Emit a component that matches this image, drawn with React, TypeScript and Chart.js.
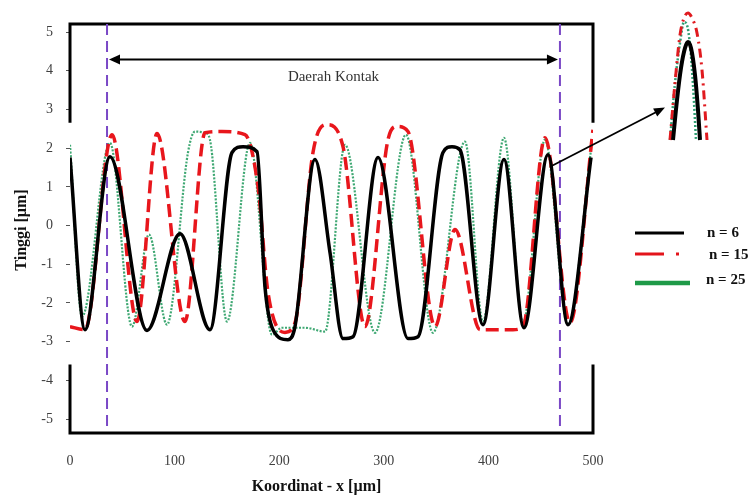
import React, { useEffect, useRef } from "react";
import { Chart, registerables } from "chart.js";

Chart.register(...registerables);

// ---- data ----
const xTicks = [0, 100, 200, 300, 400, 500];
const yTicks = [-5, -4, -3, -2, -1, 0, 1, 2, 3, 4, 5];

const seriesLabels = ["n = 6", "n = 15", "n = 25"];

const blackX = [0, 14.3, 38.2, 73.6, 105.2, 133.8, 154.9, 165.4, 178.8, 186.4, 194.1, 208.4, 215.1, 234.2, 248.6, 261.0, 270.6, 294.5, 323.1, 332.7, 356.6, 365.2, 372.8, 394.8, 414.9, 434.0, 457.0, 476.1, 498.1];
const blackY = [1.76, -2.69, 1.78, -2.71, -0.21, -2.69, 1.89, 2.04, 1.91, -1.58, -2.69, -2.95, -2.61, 1.71, -0.7, -2.92, -2.87, 1.76, -2.92, -2.87, 1.89, 2.04, 1.96, -2.56, 1.71, -2.64, 1.83, -2.56, 1.76];

const redX = [0, 14.3, 40.2, 64.1, 83.2, 109.9, 129.1, 145.3, 167.3, 179.7, 189.3, 205.5, 215.1, 232.3, 245.7, 261.0, 282.0, 304.0, 312.6, 323.1, 349.0, 368.1, 392.0, 423.5, 433.1, 454.1, 478.0, 500];
const redY = [-2.61, -2.69, 2.35, -2.48, 2.38, -2.48, 2.4, 2.43, 2.35, 1.01, -1.73, -2.76, -2.51, 1.89, 2.61, 2.04, -2.61, 2.22, 2.56, 2.43, -2.61, -0.1, -2.69, -2.69, -2.61, 2.27, -2.51, 2.48];

const greenX = [0, 11.5, 38.2, 59.3, 75.5, 92.7, 112.8, 119.5, 129.1, 133.8, 150.1, 172.1, 193.1, 202.7, 224.7, 243.8, 262.9, 291.6, 321.2, 347.0, 377.6, 394.8, 414.9, 433.1, 454.1, 476.1, 498.1];
const greenY = [2.09, -2.35, 2.14, -2.61, -0.23, -2.56, 1.89, 2.43, 2.4, 2.22, -2.48, 2.14, -2.82, -2.64, -2.64, -2.74, 2.09, -2.77, 2.35, -2.77, 2.17, -2.48, 2.27, -2.51, 2.22, -2.56, 1.96];

// zoomed inset of the peak near the contact edge (inset units)
const insetBlackX = [13, 17, 21, 25, 28, 31, 35, 38, 40];
const insetBlackY = [5, 45, 77, 97, 103, 97, 70, 35, 5];
const insetRedX = [10, 15, 20, 24, 28, 32, 37, 42, 47];
const insetRedY = [5, 62, 110, 127, 132, 127, 112, 75, 5];
const insetGreenX = [10, 15, 20, 24, 27, 30, 33, 36];
const insetGreenY = [5, 62, 102, 123, 120, 100, 60, 5];

// annotations (data units)
const contactStart = 35.4;
const contactEnd = 468.4;
const contactLineBottom = -5.2;
const arrowLevel = 4.29;
const contactLabelLevel = 3.85;
const contactLabel = "Daerah Kontak";
const frameGapTop = 2.66;
const frameGapBottom = -3.59;
const calloutFrom = { x: 459, y: 1.52 };
const calloutTo = { x: 568.8, y: 3.05 };
const xTitle = "Koordinat - x [µm]";
const yTitle = "Tinggi [µm]";

const SERIF = '"Liberation Serif", "Times New Roman", serif';

const pts = (xs: number[], ys: number[]) => xs.map((x, i) => ({ x, y: ys[i] }));

const annotPlugin = {
  id: "annot",
  beforeDatasetsDraw(chart: any) {
    const { ctx, chartArea: a, scales } = chart;
    const x = scales.x, y = scales.y;
    ctx.save();
    // frame with gaps
    ctx.strokeStyle = "#000";
    ctx.lineWidth = 3;
    ctx.lineCap = "butt";
    ctx.lineJoin = "miter";
    const gT = y.getPixelForValue(frameGapTop);
    const gB = y.getPixelForValue(frameGapBottom);
    ctx.beginPath();
    ctx.moveTo(a.left, gT);
    ctx.lineTo(a.left, a.top);
    ctx.lineTo(a.right, a.top);
    ctx.lineTo(a.right, gT);
    ctx.stroke();
    ctx.beginPath();
    ctx.moveTo(a.left, gB);
    ctx.lineTo(a.left, a.bottom);
    ctx.lineTo(a.right, a.bottom);
    ctx.lineTo(a.right, gB);
    ctx.stroke();

    // purple contact lines
    ctx.strokeStyle = "#7A48C6";
    ctx.lineWidth = 2;
    ctx.setLineDash([11, 6]);
    for (const v of [contactStart, contactEnd]) {
      const px = x.getPixelForValue(v);
      ctx.beginPath();
      ctx.moveTo(px, a.top);
      ctx.lineTo(px, y.getPixelForValue(contactLineBottom));
      ctx.stroke();
    }
    ctx.setLineDash([]);

    // double arrow
    const ay = y.getPixelForValue(arrowLevel);
    const x1 = x.getPixelForValue(contactStart) + 2;
    const x2 = x.getPixelForValue(contactEnd) - 2;
    ctx.strokeStyle = "#000";
    ctx.fillStyle = "#000";
    ctx.lineWidth = 2;
    ctx.beginPath();
    ctx.moveTo(x1 + 6, ay);
    ctx.lineTo(x2 - 6, ay);
    ctx.stroke();
    ctx.beginPath();
    ctx.moveTo(x1, ay);
    ctx.lineTo(x1 + 11, ay - 5);
    ctx.lineTo(x1 + 11, ay + 5);
    ctx.closePath();
    ctx.fill();
    ctx.beginPath();
    ctx.moveTo(x2, ay);
    ctx.lineTo(x2 - 11, ay - 5);
    ctx.lineTo(x2 - 11, ay + 5);
    ctx.closePath();
    ctx.fill();

    ctx.font = `15px ${SERIF}`;
    ctx.fillStyle = "#333";
    ctx.textAlign = "center";
    ctx.textBaseline = "middle";
    ctx.fillText(contactLabel, (x1 + x2) / 2, y.getPixelForValue(contactLabelLevel));
    ctx.restore();
  },
  afterDraw(chart: any) {
    const { ctx, chartArea: a, scales } = chart;
    const x = scales.x, y = scales.y;
    ctx.save();
    // callout arrow to inset
    const sx = x.getPixelForValue(calloutFrom.x), sy = y.getPixelForValue(calloutFrom.y);
    const ex = x.getPixelForValue(calloutTo.x), ey = y.getPixelForValue(calloutTo.y);
    const ang = Math.atan2(ey - sy, ex - sx);
    ctx.strokeStyle = "#000";
    ctx.fillStyle = "#000";
    ctx.lineWidth = 1.8;
    ctx.beginPath();
    ctx.moveTo(sx, sy);
    ctx.lineTo(ex - 8 * Math.cos(ang), ey - 8 * Math.sin(ang));
    ctx.stroke();
    ctx.beginPath();
    ctx.moveTo(ex, ey);
    ctx.lineTo(ex - 11 * Math.cos(ang) + 4.5 * Math.sin(ang), ey - 11 * Math.sin(ang) - 4.5 * Math.cos(ang));
    ctx.lineTo(ex - 11 * Math.cos(ang) - 4.5 * Math.sin(ang), ey - 11 * Math.sin(ang) + 4.5 * Math.cos(ang));
    ctx.closePath();
    ctx.fill();

    // axis titles
    ctx.fillStyle = "#111";
    ctx.font = `bold 16px ${SERIF}`;
    ctx.textAlign = "center";
    ctx.textBaseline = "middle";
    ctx.fillText(xTitle, (a.left + a.right) / 2 - 15, 487);
    ctx.save();
    ctx.translate(22, 230);
    ctx.rotate(-Math.PI / 2);
    ctx.fillText(yTitle, 0, 0);
    ctx.restore();

    // legend
    const lx = a.right + 42;
    ctx.lineCap = "butt";
    ctx.strokeStyle = "#000";
    ctx.lineWidth = 3;
    ctx.beginPath();
    ctx.moveTo(lx, 233);
    ctx.lineTo(lx + 49, 233);
    ctx.stroke();
    ctx.strokeStyle = "#E3141B";
    ctx.setLineDash([29, 12, 3, 100]);
    ctx.beginPath();
    ctx.moveTo(lx, 254);
    ctx.lineTo(lx + 45, 254);
    ctx.stroke();
    ctx.setLineDash([]);
    ctx.strokeStyle = "#1E9A48";
    ctx.lineWidth = 4.5;
    ctx.beginPath();
    ctx.moveTo(lx, 283);
    ctx.lineTo(lx + 55, 283);
    ctx.stroke();

    ctx.fillStyle = "#111";
    ctx.font = `bold 15px ${SERIF}`;
    ctx.textAlign = "left";
    ctx.textBaseline = "middle";
    ctx.fillText(seriesLabels[0], lx + 72, 233);
    ctx.fillText(seriesLabels[1], lx + 74, 255);
    ctx.fillText(seriesLabels[2], lx + 71, 280);
    ctx.restore();
  },
};

export default function App() {
  const mainRef = useRef<HTMLCanvasElement>(null);
  const insetRef = useRef<HTMLCanvasElement>(null);

  useEffect(() => {
    const tickFont = { family: SERIF, size: 14 };
    const main = new Chart(mainRef.current as HTMLCanvasElement, {
      type: "line",
      data: {
        datasets: [
          {
            label: seriesLabels[0],
            data: pts(blackX, blackY),
            borderColor: "#000",
            borderWidth: 3.5,
            pointRadius: 0,
            cubicInterpolationMode: "monotone",
          },
          {
            label: seriesLabels[1],
            data: pts(redX, redY),
            borderColor: "#E8161C",
            borderWidth: 3.5,
            borderDash: [13, 6],
            pointRadius: 0,
            cubicInterpolationMode: "monotone",
          },
          {
            label: seriesLabels[2],
            data: pts(greenX, greenY),
            borderColor: "#3FA873",
            borderWidth: 2.2,
            borderDash: [2, 1.5],
            pointRadius: 0,
            cubicInterpolationMode: "monotone",
          },
        ],
      } as any,
      options: {
        responsive: false,
        animation: false,
        devicePixelRatio: 1,
        layout: { padding: { top: 24, right: 161, bottom: 0, left: 0 } },
        plugins: { legend: { display: false }, tooltip: { enabled: false } },
        scales: {
          x: {
            type: "linear",
            min: 0,
            max: 500,
            afterBuildTicks: (s: any) => {
              s.ticks = xTicks.map((v) => ({ value: v }));
            },
            afterFit: (s: any) => {
              s.height = 64;
            },
            grid: { display: false },
            border: { display: false },
            ticks: { padding: 12, font: tickFont, color: "#404040", maxRotation: 0, autoSkip: false },
          },
          y: {
            type: "linear",
            min: -5.36,
            max: 5.21,
            afterBuildTicks: (s: any) => {
              s.ticks = yTicks.map((v) => ({ value: v }));
            },
            afterFit: (s: any) => {
              s.width = 70;
            },
            grid: { display: true, drawOnChartArea: false, drawTicks: true, tickLength: 4, color: "#555", lineWidth: 1 },
            border: { display: false },
            ticks: { padding: 13, font: tickFont, color: "#404040", autoSkip: false },
          },
        },
      } as any,
      plugins: [annotPlugin],
    });

    const inset = new Chart(insetRef.current as HTMLCanvasElement, {
      type: "line",
      data: {
        datasets: [
          {
            data: pts(insetBlackX, insetBlackY),
            borderColor: "#000",
            borderWidth: 4,
            pointRadius: 0,
            cubicInterpolationMode: "monotone",
          },
          {
            data: pts(insetRedX, insetRedY),
            borderColor: "#E01A1F",
            borderWidth: 3,
            borderDash: [9, 5, 2, 5],
            pointRadius: 0,
            cubicInterpolationMode: "monotone",
          },
          {
            data: pts(insetGreenX, insetGreenY),
            borderColor: "#2F9E72",
            borderWidth: 2.5,
            borderDash: [2, 2],
            pointRadius: 0,
            cubicInterpolationMode: "monotone",
          },
        ],
      } as any,
      options: {
        responsive: false,
        animation: false,
        devicePixelRatio: 1,
        layout: { padding: 0 },
        plugins: { legend: { display: false }, tooltip: { enabled: false } },
        scales: {
          x: { type: "linear", min: 0, max: 60, display: false },
          y: { type: "linear", min: 0, max: 145, display: false },
        },
      } as any,
    });

    return () => {
      main.destroy();
      inset.destroy();
    };
  }, []);

  return (
    <div style={{ position: "fixed", left: 0, top: 0, width: 754, height: 497, background: "#fff" }}>
      <canvas ref={mainRef} width={754} height={497} style={{ position: "absolute", left: 0, top: 0 }} />
      <canvas ref={insetRef} width={60} height={145} style={{ position: "absolute", left: 660, top: 0 }} />
    </div>
  );
}
